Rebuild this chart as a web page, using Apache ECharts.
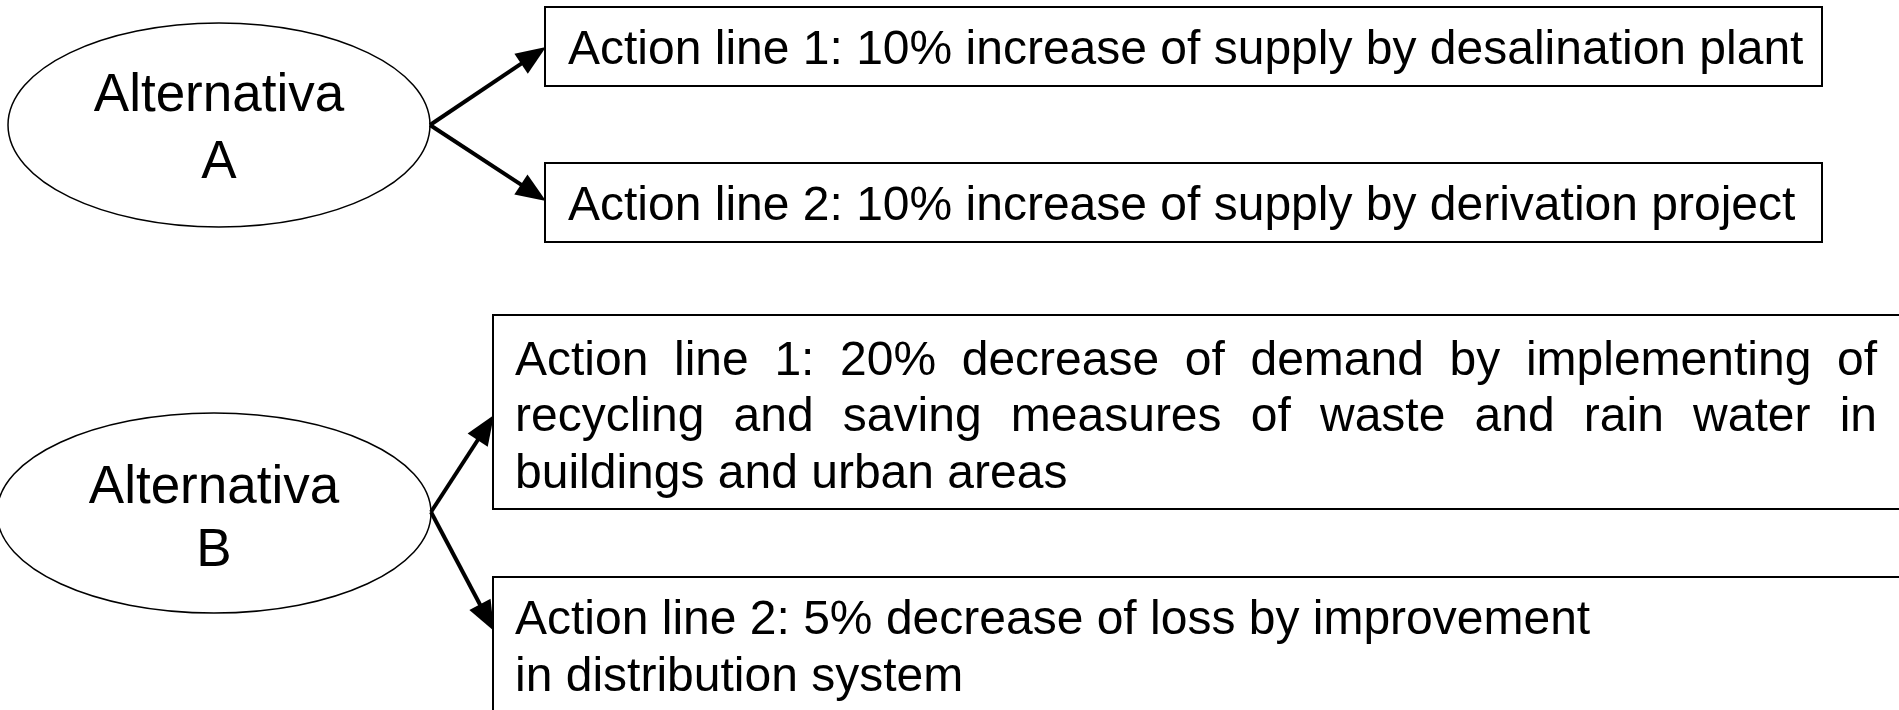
<!DOCTYPE html>
<html>
<head>
<meta charset="utf-8">
<style>
    html, body { margin: 0; padding: 0; background: #fff; }
    #main { width: 1899px; height: 710px; }
</style>
<script src="https://cdn.jsdelivr.net/npm/echarts@6/dist/echarts.min.js"></script>
</head>
<body>
<div id="main"></div>
<script>
// labels of the two alternatives (one entry per text line)
var alternativeLabels = [
    ['Alternativa', 'A'],
    ['Alternativa', 'B']
];

// action lines, one list of text lines per box
var actionTexts = [
    ['Action line 1: 10% increase of supply by desalination plant'],
    ['Action line 2: 10% increase of supply by derivation project'],
    ['Action line 1: 20% decrease of demand by implementing of',
     'recycling and saving measures of waste and rain water in',
     'buildings and urban areas'],
    ['Action line 2: 5% decrease of loss by improvement',
     'in distribution system']
];

// which alternative every action belongs to
var actionParent = [0, 0, 1, 1];

// layout (pixels of the 1899 x 710 drawing)
var ellipseLayout = [
    { cx: 219, cy: 125, rx: 211, ry: 102, lineY: [96.5, 163.5] },
    { cx: 214, cy: 513, rx: 217, ry: 100, lineY: [488, 551] }
];
var boxLayout = [
    { x: 545, y: 7,   w: 1277, h: 79,  tx: 568, tw: 0,    lineY: [51] },
    { x: 545, y: 163, w: 1277, h: 79,  tx: 568, tw: 0,    lineY: [206.5] },
    { x: 493, y: 315, w: 1430, h: 194, tx: 515, tw: 1362, lineY: [362, 418, 475] },
    { x: 493, y: 577, w: 1430, h: 160, tx: 515, tw: 0,    lineY: [620.5, 678] }
];
var arrowFrom = [[430, 125], [430, 125], [431, 512], [431, 512]];
var arrowTo = [[546, 47], [546, 201], [494, 415], [494, 631]];

var ovalFont = '53px "Liberation Sans", Arial, sans-serif';
var boxFont = '48px "Liberation Sans", Arial, sans-serif';

var measureCtx = document.createElement('canvas').getContext('2d');
function textWidth(str, font) {
    measureCtx.font = font;
    return measureCtx.measureText(str).width;
}

// text elements of one line, spread over width tw when justified
function lineElements(str, x, y, tw, font) {
    if (!tw) {
        return [{
            type: 'text', x: x, y: y,
            style: { text: str, font: font, fill: '#000', align: 'left', verticalAlign: 'middle' }
        }];
    }
    var words = str.split(' ');
    var sum = 0;
    words.forEach(function (w) { sum += textWidth(w, font); });
    var gap = (tw - sum) / (words.length - 1);
    var cur = x;
    return words.map(function (w) {
        var el = {
            type: 'text', x: cur, y: y,
            style: { text: w, font: font, fill: '#000', align: 'left', verticalAlign: 'middle' }
        };
        cur += textWidth(w, font) + gap;
        return el;
    });
}

var chart = echarts.init(document.getElementById('main'));

var option = {
    animation: false,
    grid: { left: 0, right: 0, top: 0, bottom: 0 },
    xAxis: { type: 'value', min: 0, max: 1899, show: false },
    yAxis: { type: 'value', min: 0, max: 710, inverse: true, show: false },
    series: [
        {
            // ovals of the alternatives
            type: 'custom',
            silent: true,
            data: alternativeLabels.map(function (item, index) { return [index, 0]; }),
            renderItem: function (params, api) {
                var i = api.value(0);
                var L = ellipseLayout[i];
                var c = api.coord([L.cx, L.cy]);
                var e = api.coord([L.cx + L.rx, L.cy + L.ry]);
                var children = [{
                    type: 'ellipse',
                    shape: { cx: c[0], cy: c[1], rx: e[0] - c[0], ry: e[1] - c[1] },
                    style: { fill: '#fff', stroke: '#000', lineWidth: 1.5 }
                }];
                alternativeLabels[i].forEach(function (str, k) {
                    var p = api.coord([L.cx, L.lineY[k]]);
                    children.push({
                        type: 'text', x: p[0], y: p[1],
                        style: { text: str, font: ovalFont, fill: '#000', align: 'center', verticalAlign: 'middle' }
                    });
                });
                return { type: 'group', children: children };
            }
        },
        {
            // boxes of the action lines
            type: 'custom',
            silent: true,
            data: actionTexts.map(function (item, index) { return [index, 0]; }),
            renderItem: function (params, api) {
                var i = api.value(0);
                var L = boxLayout[i];
                var p0 = api.coord([L.x, L.y]);
                var p1 = api.coord([L.x + L.w, L.y + L.h]);
                var children = [{
                    type: 'rect',
                    shape: { x: p0[0], y: p0[1], width: p1[0] - p0[0], height: p1[1] - p0[1] },
                    style: { fill: '#fff', stroke: '#000', lineWidth: 2 }
                }];
                var lines = actionTexts[i];
                lines.forEach(function (str, k) {
                    var p = api.coord([L.tx, L.lineY[k]]);
                    var tw = (L.tw && k < lines.length - 1) ? L.tw : 0;
                    children = children.concat(lineElements(str, p[0], p[1], tw, boxFont));
                });
                return { type: 'group', children: children };
            }
        },
        {
            // arrows from each alternative to its actions
            type: 'custom',
            silent: true,
            data: actionParent.map(function (parent, index) { return [index, parent]; }),
            renderItem: function (params, api) {
                var i = api.value(0);
                var a = api.coord(arrowFrom[i]);
                var b = api.coord(arrowTo[i]);
                var dx = b[0] - a[0], dy = b[1] - a[1];
                var len = Math.sqrt(dx * dx + dy * dy);
                var ux = dx / len, uy = dy / len;
                var headLen = 30, headHalf = 12;
                var bx = b[0] - ux * headLen, by = b[1] - uy * headLen;
                return {
                    type: 'group',
                    children: [
                        {
                            type: 'line',
                            shape: { x1: a[0], y1: a[1], x2: bx + ux * 2, y2: by + uy * 2 },
                            style: { stroke: '#000', lineWidth: 4 }
                        },
                        {
                            type: 'polygon',
                            shape: { points: [
                                [b[0], b[1]],
                                [bx - uy * headHalf, by + ux * headHalf],
                                [bx + uy * headHalf, by - ux * headHalf]
                            ] },
                            style: { fill: '#000' }
                        }
                    ]
                };
            }
        }
    ]
};

chart.setOption(option);
</script>
</body>
</html>
